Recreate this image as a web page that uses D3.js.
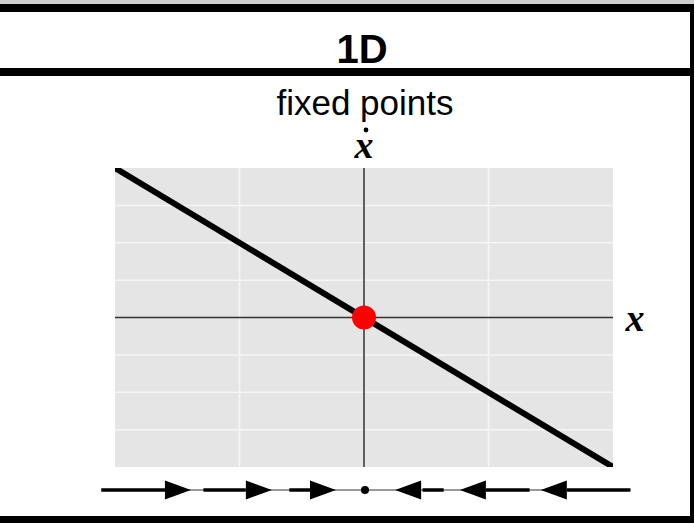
<html>
<head>
  <meta charset="utf-8">
  <script src="https://d3js.org/d3.v7.min.js"></script>
  <style>
    body { margin: 0; background: white; }
  </style>
  <script>
    // chart values
    var title = "1D";
    var subtitle = "fixed points";
    var lineX = [ -2, 2 ];                 // xdot = -2 x
    var lineY = [ 4, -4 ];
    var fixedPoints = [ 0 ];
    var gridX = [ -1, 1 ];
    var gridY = [ -3, -2, -1, 1, 2, 3 ];
    // phase line: arrow tips and direction, thick segments
    var arrowTips = [ -1.39, -0.74, -0.225, 0.25, 0.77, 1.42 ];
    var arrowDirs = [ 1, 1, 1, -1, -1, -1 ];
    var segStarts = [ -2.11, -1.29, -0.60, 0.47, 0.98, 1.63 ];
    var segEnds   = [ -1.59, -0.95, -0.43, 0.64, 1.33, 2.14 ];

    function makeChart() {
      var svg = d3.select( "#chart" );
      var W = 694, H = 523;

      // frame
      svg.append( "rect" ).attr( "x", 0 ).attr( "y", 0 ).attr( "width", W ).attr( "height", 4 )
          .attr( "fill", "#d0d0d0" );
      svg.append( "rect" ).attr( "x", 0 ).attr( "y", 4 ).attr( "width", W ).attr( "height", 8 )
          .attr( "fill", "black" );
      svg.append( "rect" ).attr( "x", 0 ).attr( "y", 68 ).attr( "width", W ).attr( "height", 8 )
          .attr( "fill", "black" );
      svg.append( "rect" ).attr( "x", 690 ).attr( "y", 4 ).attr( "width", 4 ).attr( "height", H )
          .attr( "fill", "black" );
      svg.append( "rect" ).attr( "x", 0 ).attr( "y", 516 ).attr( "width", W ).attr( "height", 7 )
          .attr( "fill", "black" );

      svg.append( "text" ).attr( "x", 362 ).attr( "y", 63 ).attr( "text-anchor", "middle" )
          .style( "font", "bold 40px 'Liberation Sans', Arial, sans-serif" ).text( title );
      svg.append( "text" ).attr( "x", 365 ).attr( "y", 115 ).attr( "text-anchor", "middle" )
          .style( "font", "35px 'Liberation Sans', Arial, sans-serif" ).text( subtitle );

      var sx = d3.scaleLinear().domain( [-2, 2] ).range( [115, 613] );
      var sy = d3.scaleLinear().domain( [-4, 4] ).range( [467, 168] );

      var g = svg.append( "g" );
      g.append( "rect" ).attr( "x", sx(-2) ).attr( "y", sy(4) )
          .attr( "width", sx(2) - sx(-2) ).attr( "height", sy(-4) - sy(4) )
          .attr( "fill", "#e5e5e5" );

      g.selectAll( "line.gx" ).data( gridX ).enter().append( "line" ).attr( "class", "gx" )
          .attr( "x1", sx ).attr( "x2", sx ).attr( "y1", sy(4) ).attr( "y2", sy(-4) )
          .attr( "stroke", "#f6f6f6" ).attr( "stroke-width", 1.5 );
      g.selectAll( "line.gy" ).data( gridY ).enter().append( "line" ).attr( "class", "gy" )
          .attr( "y1", sy ).attr( "y2", sy ).attr( "x1", sx(-2) ).attr( "x2", sx(2) )
          .attr( "stroke", "#f6f6f6" ).attr( "stroke-width", 1.5 );

      // axes
      g.append( "line" ).attr( "x1", sx(0) ).attr( "x2", sx(0) ).attr( "y1", sy(4) ).attr( "y2", sy(-4) )
          .attr( "stroke", "#333" ).attr( "stroke-width", 1.5 );
      g.append( "line" ).attr( "x1", sx(-2) ).attr( "x2", sx(2) ).attr( "y1", sy(0) ).attr( "y2", sy(0) )
          .attr( "stroke", "#333" ).attr( "stroke-width", 1.5 );

      // the line xdot = -2x
      var pts = d3.zip( lineX, lineY );
      svg.append( "defs" ).append( "clipPath" ).attr( "id", "clip" ).append( "rect" )
          .attr( "x", sx(-2) ).attr( "y", sy(4) )
          .attr( "width", sx(2) - sx(-2) ).attr( "height", sy(-4) - sy(4) );
      g.append( "path" ).attr( "d", d3.line().x( d => sx(d[0]) ).y( d => sy(d[1]) )( pts ) )
          .attr( "stroke", "black" ).attr( "stroke-width", 6 ).attr( "fill", "none" )
          .attr( "clip-path", "url(#clip)" );

      g.selectAll( "circle.fp" ).data( fixedPoints ).enter().append( "circle" ).attr( "class", "fp" )
          .attr( "cx", sx ).attr( "cy", sy(0) ).attr( "r", 12 ).attr( "fill", "red" );

      // axis labels
      var serif = "italic bold 38px 'Liberation Serif', 'Times New Roman', serif";
      svg.append( "text" ).attr( "x", sx(0) ).attr( "y", 158 ).attr( "text-anchor", "middle" )
          .style( "font", serif ).text( "x" );
      svg.append( "circle" ).attr( "cx", sx(0) + 2 ).attr( "cy", 130 ).attr( "r", 2.4 ).attr( "fill", "black" );
      svg.append( "text" ).attr( "x", 635 ).attr( "y", 331 ).attr( "text-anchor", "middle" )
          .style( "font", serif ).text( "x" );

      // phase line
      var py = 490, alen = 26, ah = 9.5;
      var pl = svg.append( "g" );
      pl.append( "line" ).attr( "x1", sx(d3.min(segStarts)) ).attr( "x2", sx(d3.max(segEnds)) )
          .attr( "y1", py ).attr( "y2", py ).attr( "stroke", "#777" ).attr( "stroke-width", 1.5 );
      pl.selectAll( "line.seg" ).data( d3.zip( segStarts, segEnds ) ).enter().append( "line" )
          .attr( "class", "seg" )
          .attr( "x1", d => sx(d[0]) ).attr( "x2", d => sx(d[1]) )
          .attr( "y1", py ).attr( "y2", py ).attr( "stroke", "black" ).attr( "stroke-width", 3.5 );
      pl.selectAll( "path.arr" ).data( d3.zip( arrowTips, arrowDirs ) ).enter().append( "path" )
          .attr( "class", "arr" )
          .attr( "d", d => {
              var t = sx(d[0]), b = t - d[1] * alen;
              return "M" + t + "," + py + "L" + b + "," + (py - ah) + "L" + b + "," + (py + ah) + "Z";
          } )
          .attr( "fill", "black" );
      pl.selectAll( "circle.fp" ).data( fixedPoints ).enter().append( "circle" ).attr( "class", "fp" )
          .attr( "cx", d => sx(d) + 1 ).attr( "cy", py ).attr( "r", 4 ).attr( "fill", "black" );
    }
  </script>
</head>
<body onload="makeChart()">
  <svg id="chart" width="694" height="523"></svg>
</body>
</html>
